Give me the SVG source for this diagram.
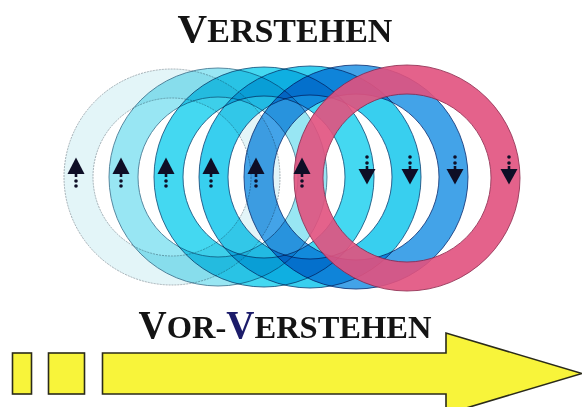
<svg xmlns="http://www.w3.org/2000/svg" xmlns:xlink="http://www.w3.org/1999/xlink" width="582" height="407" viewBox="0 0 582 407">
<style>
.title{font-family:"Liberation Serif","Times New Roman",serif;font-weight:bold;fill:#141414;}
.band{fill:none;stroke-width:29;}
.edge{fill:none;stroke-width:0.9;}
.mul{mix-blend-mode:multiply;}
.yel{fill:#f8f43a;stroke:#2a2a1a;stroke-width:1.6;stroke-linejoin:miter;}
.arr{fill:#0e0e26;}
</style>
<defs>
<g id="up" class="arr">
<polygon points="0,157.5 8.5,174 -8.5,174"/>
<rect x="-1.3" y="173" width="2.6" height="4"/>
<circle cx="0" cy="181" r="1.8"/>
<circle cx="0" cy="186" r="1.8"/>
</g>
<g id="down" class="arr">
<circle cx="0" cy="157" r="1.8"/>
<circle cx="0" cy="163" r="1.8"/>
<rect x="-1.3" y="166" width="2.6" height="4"/>
<polygon points="-8.5,169 8.5,169 0,184.5"/>
</g>
</defs>
<rect width="582" height="407" fill="#ffffff"/>
<g id="title-verstehen">
<text class="title" x="285" y="42" text-anchor="middle"><tspan font-size="41">V</tspan><tspan font-size="34">ERSTEHEN</tspan></text>
</g>
<g id="rings">
<g id="ring1" class="mul">
<circle class="band" cx="172" cy="177" r="93.5" stroke="#e3f5f8"/>
<circle class="edge" cx="172" cy="177" r="108" stroke="#9aa6ad" stroke-dasharray="2 1"/>
<circle class="edge" cx="172" cy="177" r="79" stroke="#9aa6ad" stroke-dasharray="2 1"/>
</g>
<g id="ring2" class="mul">
<circle class="band" cx="218" cy="177" r="94.5" stroke="#98e6f3"/>
<circle class="edge" cx="218" cy="177" r="109" stroke="#4a7d96"/>
<circle class="edge" cx="218" cy="177" r="80" stroke="#4a7d96"/>
</g>
<g id="ring3" class="mul">
<circle class="band" cx="264" cy="177" r="95.5" stroke="#44d8f1"/>
<circle class="edge" cx="264" cy="177" r="110" stroke="#1d5a82"/>
<circle class="edge" cx="264" cy="177" r="81" stroke="#1d5a82"/>
</g>
<g id="ring4" class="mul">
<circle class="band" cx="310" cy="177" r="96.5" stroke="#38cfef"/>
<circle class="edge" cx="310" cy="177" r="111" stroke="#1d5282"/>
<circle class="edge" cx="310" cy="177" r="82" stroke="#1d5282"/>
</g>
<g id="ring5" class="mul">
<circle class="band" cx="356" cy="177" r="97.5" stroke="#43a3e8"/>
<circle class="edge" cx="356" cy="177" r="112" stroke="#1c3e7e"/>
<circle class="edge" cx="356" cy="177" r="83" stroke="#1c3e7e"/>
</g>
<g id="ring6" opacity="0.9">
<circle class="band" cx="407" cy="178" r="98.5" stroke="#e2527f"/>
<circle class="edge" cx="407" cy="178" r="113" stroke="#8a2348"/>
<circle class="edge" cx="407" cy="178" r="84" stroke="#8a2348"/>
</g>
</g>
<g id="arrows">
<use xlink:href="#up" x="76"/>
<use xlink:href="#up" x="121"/>
<use xlink:href="#up" x="166"/>
<use xlink:href="#up" x="211"/>
<use xlink:href="#up" x="256"/>
<use xlink:href="#up" x="302"/>
<use xlink:href="#down" x="367"/>
<use xlink:href="#down" x="410"/>
<use xlink:href="#down" x="455"/>
<use xlink:href="#down" x="509"/>
</g>
<g id="title-vor-verstehen">
<text class="title" x="285" y="338" text-anchor="middle"><tspan font-size="39">V</tspan><tspan font-size="32.5">OR-</tspan><tspan font-size="39" fill="#1c1c6a">V</tspan><tspan font-size="32.5">ERSTEHEN</tspan></text>
</g>
<g id="timeline">
<rect id="block1" class="yel" x="12.5" y="353" width="19" height="41"/>
<rect id="block2" class="yel" x="48.5" y="353" width="36" height="41"/>
<polygon id="big-arrow" class="yel" points="102.5,353 446,353 446,333 582,373.5 446,414 446,394 102.5,394"/>
</g>
</svg>
